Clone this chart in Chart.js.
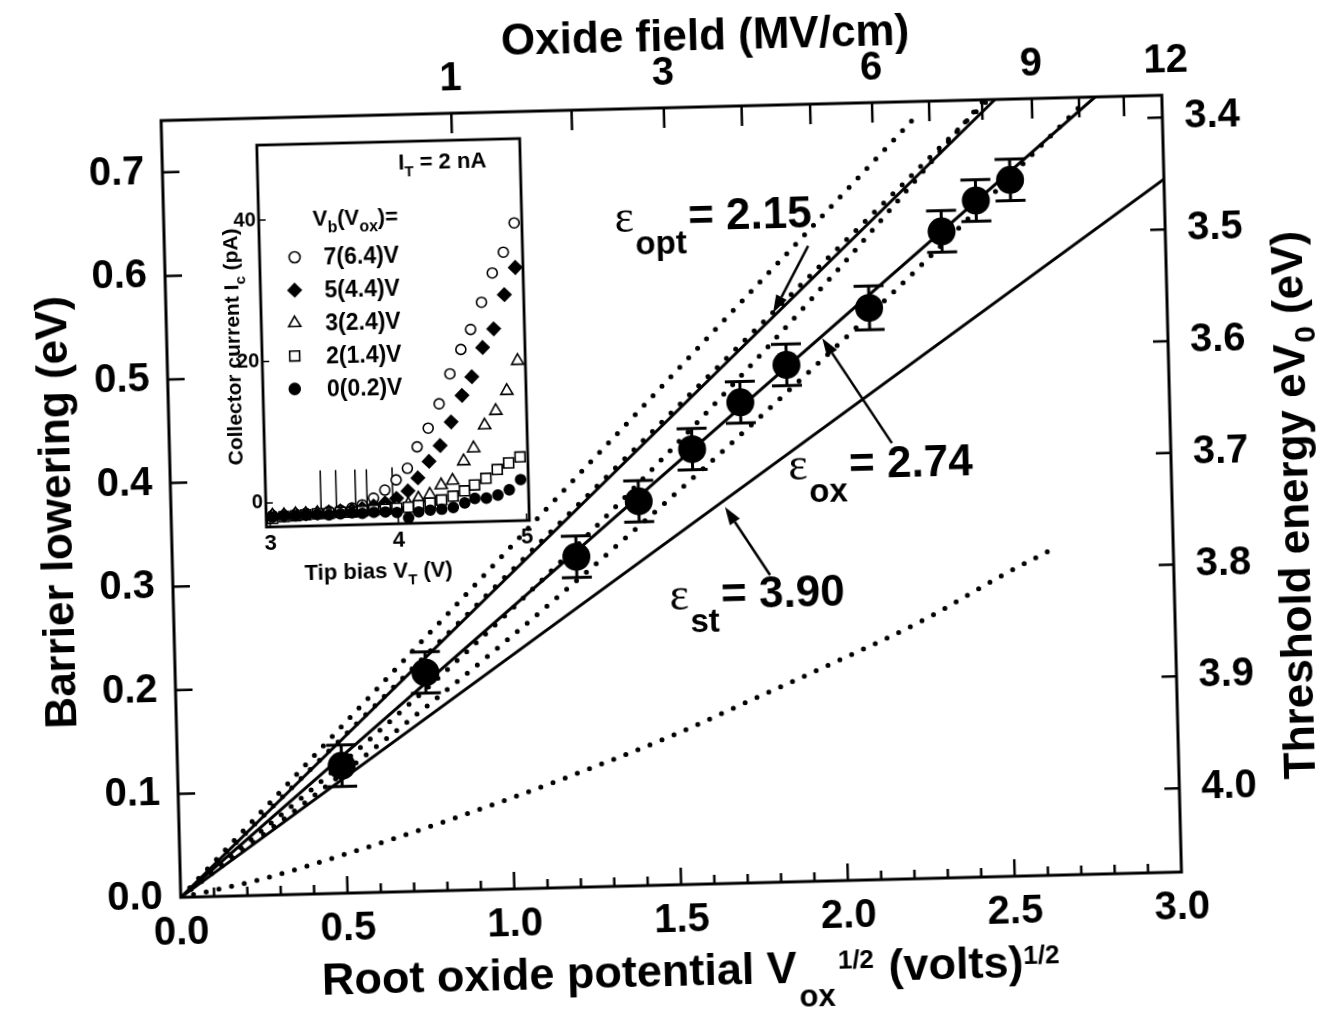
<!DOCTYPE html>
<html>
<head>
<meta charset="utf-8">
<title>Barrier lowering vs root oxide potential</title>
<script src="https://cdn.jsdelivr.net/npm/chart.js@4.4.1/dist/chart.umd.min.js"></script>
<style>
  html, body { margin:0; padding:0; background:#fff; overflow:hidden; width:1328px; height:1010px; }
  #wrap { position:relative; width:1328px; height:1030px; transform:rotate(-1.45deg); transform-origin:664px 505px; }
  #main { position:absolute; left:0; top:0; }
  #inset { position:absolute; left:200px; top:120px; }
</style>
</head>
<body>
<div id="wrap">
  <canvas id="main" width="1328" height="1030"></canvas>
  <canvas id="inset" width="340" height="470"></canvas>
</div>
<script>
// ---------------- main chart data ----------------
const rootVox        = [0.492, 0.750, 1.211, 1.402, 1.566, 1.714, 1.855, 2.107, 2.330, 2.435, 2.539];
const barrierLowering= [0.123, 0.211, 0.319, 0.371, 0.420, 0.464, 0.499, 0.552, 0.624, 0.653, 0.672];
const errBar         = [0.020, 0.020, 0.020, 0.020, 0.020, 0.020, 0.020, 0.021, 0.020, 0.020, 0.020];

const epsOptLine = [[0, 0], [2.50, 0.750]];
const epsOxLine  = [[0, 0], [2.80, 0.750]];
const epsStLine  = [[0, 0], [3.00, 0.669]];
const dotLineA   = [[0, 0], [2.26, 0.735]];
const dotLineB   = [[0, 0], [2.48, 0.750]];
const dotCurveC  = [[0, 0], [0.50, 0.127], [1.00, 0.266], [1.50, 0.419], [2.00, 0.584], [2.25, 0.672], [2.47, 0.751]];
const dotCurveD  = [[0, 0], [0.50, 0.117], [1.00, 0.241], [1.50, 0.374], [2.00, 0.514], [2.25, 0.587], [2.50, 0.663], [2.75, 0.740]];
const dotCurveE  = [[0, 0], [0.25, 0.016], [0.50, 0.038], [0.75, 0.062], [1.00, 0.088], [1.25, 0.116],
                    [1.50, 0.146], [1.75, 0.180], [2.00, 0.214], [2.25, 0.250], [2.50, 0.293], [2.64, 0.315]];

const bottomTicks = [0.0, 0.5, 1.0, 1.5, 2.0, 2.5, 3.0];
const leftTicks   = [0.0, 0.1, 0.2, 0.3, 0.4, 0.5, 0.6, 0.7];
const rightTicks  = [3.4, 3.5, 3.6, 3.7, 3.8, 3.9, 4.0];
const fieldTicks  = [1, 2, 3, 4, 5, 6, 7, 8, 9, 10, 11, 12];
const fieldLabels = [1, 3, 6, 9, 12];
const voxPerField = 0.757;   // V_ox (V) per MV/cm

// ---------------- inset data ----------------
const insetBias = [3.02, 3.11, 3.20, 3.28, 3.37, 3.46, 3.55, 3.64, 3.72, 3.81, 3.90, 3.99,
                   4.08, 4.16, 4.25, 4.34, 4.43, 4.52, 4.60, 4.69, 4.78, 4.87, 4.96];
const ic7 = [-1.8,-1.8,-1.7,-1.6,-1.6,-1.4,-1.3,-1.0,-0.6, 0.3, 1.4, 2.8, 4.4, 7.4,10.0,13.4,17.6,21.0,23.8,27.6,31.7,34.6,38.7];
const ic5 = [-1.8,-1.8,-1.7,-1.7,-1.6,-1.5,-1.4,-1.3,-1.1,-0.8,-0.4, 0.2, 1.2, 3.0, 5.3, 7.5,10.8,14.5,17.1,21.2,23.8,28.6,32.4];
const ic3 = [-1.8,-1.8,-1.7,-1.7,-1.6,-1.6,-1.5,-1.5,-1.4,-1.3,-1.2,-1.0,-0.7, 0.1, 0.6, 1.9, 2.5, 5.2, 7.0,10.2,12.2,15.0,19.2];
const ic2 = [-2.2,-2.0,-1.9,-1.8,-1.7,-1.7,-1.6,-1.6,-1.5,-1.4,-1.3,-1.2,-1.1,-0.9,-0.6,-0.2, 0.3, 1.0, 1.8, 2.7, 3.9, 4.8, 5.6];
const ic0 = [-2.0,-1.9,-1.9,-1.8,-1.8,-1.9,-1.8,-1.7,-1.8,-1.7,-1.7,-1.8,-2.6,-1.8,-1.6,-1.5,-1.3,-0.7,-0.1,-0.1, 0.3, 1.0, 2.4];
const insetLabels = ['7(6.4)V', '5(4.4)V', '3(2.4)V', '2(1.4)V', '0(0.2)V'];
const spikeBias   = [3.40, 3.52, 3.67, 3.76, 3.96];
const spikeTop    = [4.4, 4.4, 4.4, 4.4, 4.6];
const spikeBottom = [-1.6, -1.6, -1.5, -1.4, -1.2];
const insetXTicks = [3, 4, 5];
const insetYTicks = [0, 20, 40];

// ---------------- helpers ----------------
const SANS = "'Liberation Sans', Arial, Helvetica, sans-serif";
const SERIF = "'Liberation Serif', 'Times New Roman', serif";
const B = s => `bold ${s}px ${SANS}`;
Chart.defaults.font.family = SANS;
Chart.defaults.color = '#000';

const toXY = arr => arr.map(p => ({x: p[0], y: p[1]}));

function richWidth(ctx, parts) {
  let w = 0;
  parts.forEach(p => { ctx.font = p.font; w += ctx.measureText(p.t).width + (p.gap || 0); });
  return w;
}
function drawRich(ctx, parts, x, y) {
  let cx = x;
  parts.forEach(p => {
    ctx.font = p.font;
    cx += (p.gap || 0);
    ctx.fillText(p.t, cx, y + (p.dy || 0));
    cx += ctx.measureText(p.t).width;
  });
  return cx;
}
function arrow(ctx, x1, y1, x2, y2, len, half) {
  const ang = Math.atan2(y2 - y1, x2 - x1);
  const bx = x2 - len * Math.cos(ang), by = y2 - len * Math.sin(ang);
  ctx.beginPath(); ctx.moveTo(x1, y1); ctx.lineTo(bx, by); ctx.stroke();
  ctx.beginPath();
  ctx.moveTo(x2, y2);
  ctx.lineTo(bx + half * Math.sin(ang), by - half * Math.cos(ang));
  ctx.lineTo(bx - half * Math.sin(ang), by + half * Math.cos(ang));
  ctx.closePath(); ctx.fill();
}
function marker(ctx, style, x, y, r, filled) {
  ctx.save();
  ctx.lineWidth = 1.6; ctx.strokeStyle = '#000'; ctx.fillStyle = filled ? '#000' : '#fff';
  ctx.beginPath();
  if (style === 'circle') ctx.arc(x, y, r, 0, Math.PI * 2);
  else if (style === 'rect') { const s = r * Math.SQRT1_2; ctx.rect(x - s, y - s, 2 * s, 2 * s); }
  else if (style === 'rectRot') { ctx.moveTo(x, y - r); ctx.lineTo(x + r, y); ctx.lineTo(x, y + r); ctx.lineTo(x - r, y); ctx.closePath(); }
  else if (style === 'triangle') {
    ctx.moveTo(x, y - r); ctx.lineTo(x + r * 0.866, y + r * 0.5); ctx.lineTo(x - r * 0.866, y + r * 0.5); ctx.closePath();
  }
  ctx.fill(); ctx.stroke();
  ctx.restore();
}

const solid = (data) => ({data: toXY(data), showLine: true, borderColor: '#000', borderWidth: 3,
  pointRadius: 0, fill: false, backgroundColor: 'rgba(0,0,0,0)'});
const dotted = (data, tension) => ({data: toXY(data), showLine: true, borderColor: '#000', borderWidth: 5,
  borderDash: [0, 13], borderCapStyle: 'round', pointRadius: 0, fill: false, tension: tension || 0,
  cubicInterpolationMode: tension ? 'monotone' : 'default', backgroundColor: 'rgba(0,0,0,0)'});

// ---------------- main decorations ----------------
const annotations = [
  {sub: 'opt', val: '= 2.15', at: [1.351, 0.631], tail: [1.929, 0.6132], head: [1.819, 0.5494]},
  {sub: 'ox',  val: '= 2.74', at: [1.853, 0.388], tail: [2.165, 0.421],  head: [1.964, 0.524]},
  {sub: 'st',  val: '= 3.90', at: [1.487, 0.265], tail: [1.790, 0.2966], head: [1.660, 0.3634]}
];

const mainDecor = {
  id: 'mainDecor',
  afterDatasetsDraw(chart) {
    const {ctx, chartArea: a, scales} = chart;
    const x = scales.x, y = scales.y, x2 = scales.x2, y2 = scales.y2;
    ctx.save();
    ctx.strokeStyle = '#000'; ctx.fillStyle = '#000';
    // error bars
    ctx.lineWidth = 3;
    rootVox.forEach((v, i) => {
      const px = x.getPixelForValue(v);
      const t = y.getPixelForValue(barrierLowering[i] + errBar[i]);
      const b = y.getPixelForValue(barrierLowering[i] - errBar[i]);
      ctx.beginPath();
      ctx.moveTo(px, t); ctx.lineTo(px, b);
      ctx.moveTo(px - 15, t); ctx.lineTo(px + 15, t);
      ctx.moveTo(px - 15, b); ctx.lineTo(px + 15, b);
      ctx.stroke();
    });
    // frame
    ctx.lineWidth = 3;
    ctx.strokeRect(a.left, a.top, a.right - a.left, a.bottom - a.top);
    // ticks
    ctx.lineWidth = 2.5;
    ctx.beginPath();
    for (let k = 1; k < 30; k++) {
      const v = k / 10, px = x.getPixelForValue(v);
      const len = (k % 5 === 0) ? 17 : 9;
      ctx.moveTo(px, a.bottom); ctx.lineTo(px, a.bottom - len);
    }
    leftTicks.forEach(v => { const py = y.getPixelForValue(v); if (v > 0) { ctx.moveTo(a.left, py); ctx.lineTo(a.left + 17, py); } });
    fieldTicks.forEach(f => { const px = x2.getPixelForValue(Math.sqrt(f * voxPerField)); if (px < a.right - 2) { ctx.moveTo(px, a.top); ctx.lineTo(px, a.top + 20); } });
    rightTicks.forEach(v => { const py = y2.getPixelForValue(v); ctx.moveTo(a.right, py); ctx.lineTo(a.right - 15, py); });
    ctx.stroke();

    // annotations
    ctx.textAlign = 'left'; ctx.textBaseline = 'alphabetic';
    ctx.lineWidth = 2.5;
    annotations.forEach(an => {
      const px = x.getPixelForValue(an.at[0]), py = y.getPixelForValue(an.at[1]);
      drawRich(ctx, [
        {t: '\u03b5', font: `46px ${SERIF}`},
        {t: an.sub, font: B(33), dy: 23, gap: 1},
        {t: an.val, font: B(44), gap: 2}
      ], px, py);
      arrow(ctx, x.getPixelForValue(an.tail[0]), y.getPixelForValue(an.tail[1]),
                 x.getPixelForValue(an.head[0]), y.getPixelForValue(an.head[1]), 18, 6);
    });

    // axis titles
    ctx.font = B(44); ctx.textAlign = 'center';
    ctx.fillText('Oxide field (MV/cm)', 717, 51);
    ctx.textAlign = 'left';
    drawRich(ctx, [
      {t: 'Root oxide potential V', font: B(45)},
      {t: 'ox', font: B(31), dy: 24, gap: 2},
      {t: '1/2', font: B(26), dy: -13, gap: 3},
      {t: ' (volts)', font: B(45), gap: 2},
      {t: '1/2', font: B(26), dy: -13}
    ], 310, 986);
    ctx.save();
    ctx.translate(55, 497); ctx.rotate(-Math.PI / 2);
    const lp = [{t: 'Barrier lowering (eV)', font: B(44)}];
    drawRich(ctx, lp, -richWidth(ctx, lp) / 2, 16);
    ctx.restore();
    ctx.save();
    ctx.translate(1292, 521); ctx.rotate(-Math.PI / 2);
    const rp = [{t: 'Threshold energy eV', font: B(44)}, {t: '0', font: B(30), dy: 11, gap: 1}, {t: ' (eV)', font: B(44)}];
    drawRich(ctx, rp, -richWidth(ctx, rp) / 2, 16);
    ctx.restore();
    ctx.restore();
  }
};

const tickFont = {family: SANS, size: 40, weight: 'bold'};
const noGrid = {display: false, drawTicks: false};

new Chart(document.getElementById('main'), {
  type: 'scatter',
  data: {
    datasets: [
      {data: rootVox.map((v, i) => ({x: v, y: barrierLowering[i]})), showLine: false,
       pointRadius: 14, pointBackgroundColor: '#000', pointBorderColor: '#000', pointBorderWidth: 0},
      solid(epsOptLine), solid(epsOxLine), solid(epsStLine),
      dotted(dotLineA), dotted(dotLineB), dotted(dotCurveC, 0.4), dotted(dotCurveD, 0.4),
      dotted(dotCurveE, 0.4)
    ]
  },
  options: {
    responsive: false, animation: false, devicePixelRatio: 1,
    layout: {padding: 0},
    plugins: {legend: {display: false}, tooltip: {enabled: false}},
    scales: {
      x: {type: 'linear', position: 'bottom', min: 0, max: 3,
          afterBuildTicks: s => { s.ticks = bottomTicks.map(v => ({value: v})); },
          ticks: {font: tickFont, color: '#000', padding: 12, maxRotation: 0, autoSkip: false, callback: v => Number(v).toFixed(1)},
          grid: noGrid, border: {display: false}, afterFit: s => { s.height = 145; }},
      y: {type: 'linear', position: 'left', min: 0, max: 0.75,
          afterBuildTicks: s => { s.ticks = leftTicks.map(v => ({value: v})); },
          ticks: {font: tickFont, color: '#000', padding: 18, autoSkip: false, callback: v => Number(v).toFixed(1)},
          grid: noGrid, border: {display: false}, afterFit: s => { s.width = 171; }},
      x2: {type: 'linear', position: 'top', min: 0, max: 3,
          afterBuildTicks: s => { s.ticks = fieldTicks.map(f => ({value: Math.sqrt(f * voxPerField)})); },
          ticks: {font: tickFont, color: '#000', padding: 10, maxRotation: 0, autoSkip: false,
                  callback: (v, i) => fieldLabels.includes(fieldTicks[i]) ? String(fieldTicks[i]) : ''},
          grid: noGrid, border: {display: false}, afterFit: s => { s.height = 108; }},
      y2: {type: 'linear', position: 'right', min: 3.38, max: 4.075, reverse: true,
          afterBuildTicks: s => { s.ticks = rightTicks.map(v => ({value: v})); },
          ticks: {font: tickFont, color: '#000', padding: 22, autoSkip: false, callback: v => Number(v).toFixed(1)},
          grid: noGrid, border: {display: false}, afterFit: s => { s.width = 156; }}
    }
  },
  plugins: [mainDecor]
});

// ---------------- inset ----------------
const insetSeries = [
  {data: ic0, style: 'circle',   r: 5,   filled: true},
  {data: ic2, style: 'rect',     r: 7,   filled: false},
  {data: ic3, style: 'triangle', r: 7,   filled: false},
  {data: ic5, style: 'rectRot',  r: 6.5, filled: true},
  {data: ic7, style: 'circle',   r: 5,   filled: false}
];
const legendOrder = [4, 3, 2, 1, 0];

const spikeData = [];
spikeBias.forEach((b, i) => {
  spikeData.push({x: b, y: spikeBottom[i]}, {x: b, y: spikeTop[i]}, {x: b, y: null});
});

const insetDecor = {
  id: 'insetDecor',
  afterDatasetsDraw(chart) {
    const {ctx, chartArea: a, scales: {x, y}} = chart;
    ctx.save();
    ctx.strokeStyle = '#000'; ctx.fillStyle = '#000';
    ctx.lineWidth = 2.8;
    ctx.strokeRect(a.left, a.top, a.right - a.left, a.bottom - a.top);
    ctx.lineWidth = 1.5;
    ctx.beginPath();
    insetXTicks.forEach(v => { const px = x.getPixelForValue(v); ctx.moveTo(px, a.bottom); ctx.lineTo(px, a.bottom - 7); });
    insetYTicks.forEach(v => { const py = y.getPixelForValue(v); ctx.moveTo(a.left, py); ctx.lineTo(a.left + 7, py); });
    ctx.stroke();
    ctx.textAlign = 'left'; ctx.textBaseline = 'alphabetic';
    drawRich(ctx, [{t: 'I', font: B(22)}, {t: 'T', font: B(15), dy: 7}, {t: ' = 2 nA', font: B(22)}], 207, 43);
    drawRich(ctx, [{t: 'V', font: B(22)}, {t: 'b', font: B(16), dy: 7}, {t: '(V', font: B(22)},
                   {t: 'ox', font: B(16), dy: 7}, {t: ')=', font: B(22)}], 120, 97);
    legendOrder.forEach((si, k) => {
      const s = insetSeries[si];
      const ly = 128 + k * 32.9;
      marker(ctx, s.style, 101 - k * 0.8, ly, s.style === 'circle' ? 5.5 : s.r, s.filled);
      ctx.font = B(23);
      ctx.fillText(insetLabels[k], 130, ly + 8);
    });
    drawRich(ctx, [{t: 'Tip bias V', font: B(22)}, {t: 'T', font: B(15), dy: 7}, {t: ' (V)', font: B(22)}], 103, 451);
    ctx.save();
    ctx.translate(37, 216); ctx.rotate(-Math.PI / 2);
    const yp = [{t: 'Collector current I', font: B(21)}, {t: 'c', font: B(15), dy: 7}, {t: ' (pA)', font: B(21)}];
    drawRich(ctx, yp, -richWidth(ctx, yp) / 2, 7);
    ctx.restore();
    ctx.restore();
  }
};

new Chart(document.getElementById('inset'), {
  type: 'scatter',
  data: {
    datasets: insetSeries.map(s => ({
      data: insetBias.map((v, i) => ({x: v, y: s.data[i]})), showLine: false,
      pointStyle: s.style, pointRadius: s.r, pointBorderWidth: 1.6, pointBorderColor: '#000',
      pointBackgroundColor: s.filled ? '#000' : '#fff'
    })).concat([{data: spikeData, showLine: true, spanGaps: false, borderColor: '#000', borderWidth: 1.5, pointRadius: 0}])
  },
  options: {
    responsive: false, animation: false, devicePixelRatio: 1,
    layout: {padding: {top: 11, right: 11, left: 0, bottom: 0}},
    plugins: {legend: {display: false}, tooltip: {enabled: false}},
    scales: {
      x: {type: 'linear', min: 2.97, max: 5.02,
          afterBuildTicks: s => { s.ticks = insetXTicks.map(v => ({value: v})); },
          ticks: {font: {family: SANS, size: 22, weight: 'bold'}, color: '#000', padding: 4, maxRotation: 0, autoSkip: false},
          grid: noGrid, border: {display: false}, afterFit: s => { s.height = 73; }},
      y: {type: 'linear', min: -3.4, max: 50.6,
          afterBuildTicks: s => { s.ticks = insetYTicks.map(v => ({value: v})); },
          ticks: {font: {family: SANS, size: 20, weight: 'bold'}, color: '#000', padding: 3, autoSkip: false},
          grid: noGrid, border: {display: false}, afterFit: s => { s.width = 66; }}
    }
  },
  plugins: [insetDecor]
});
</script>
</body>
</html>
